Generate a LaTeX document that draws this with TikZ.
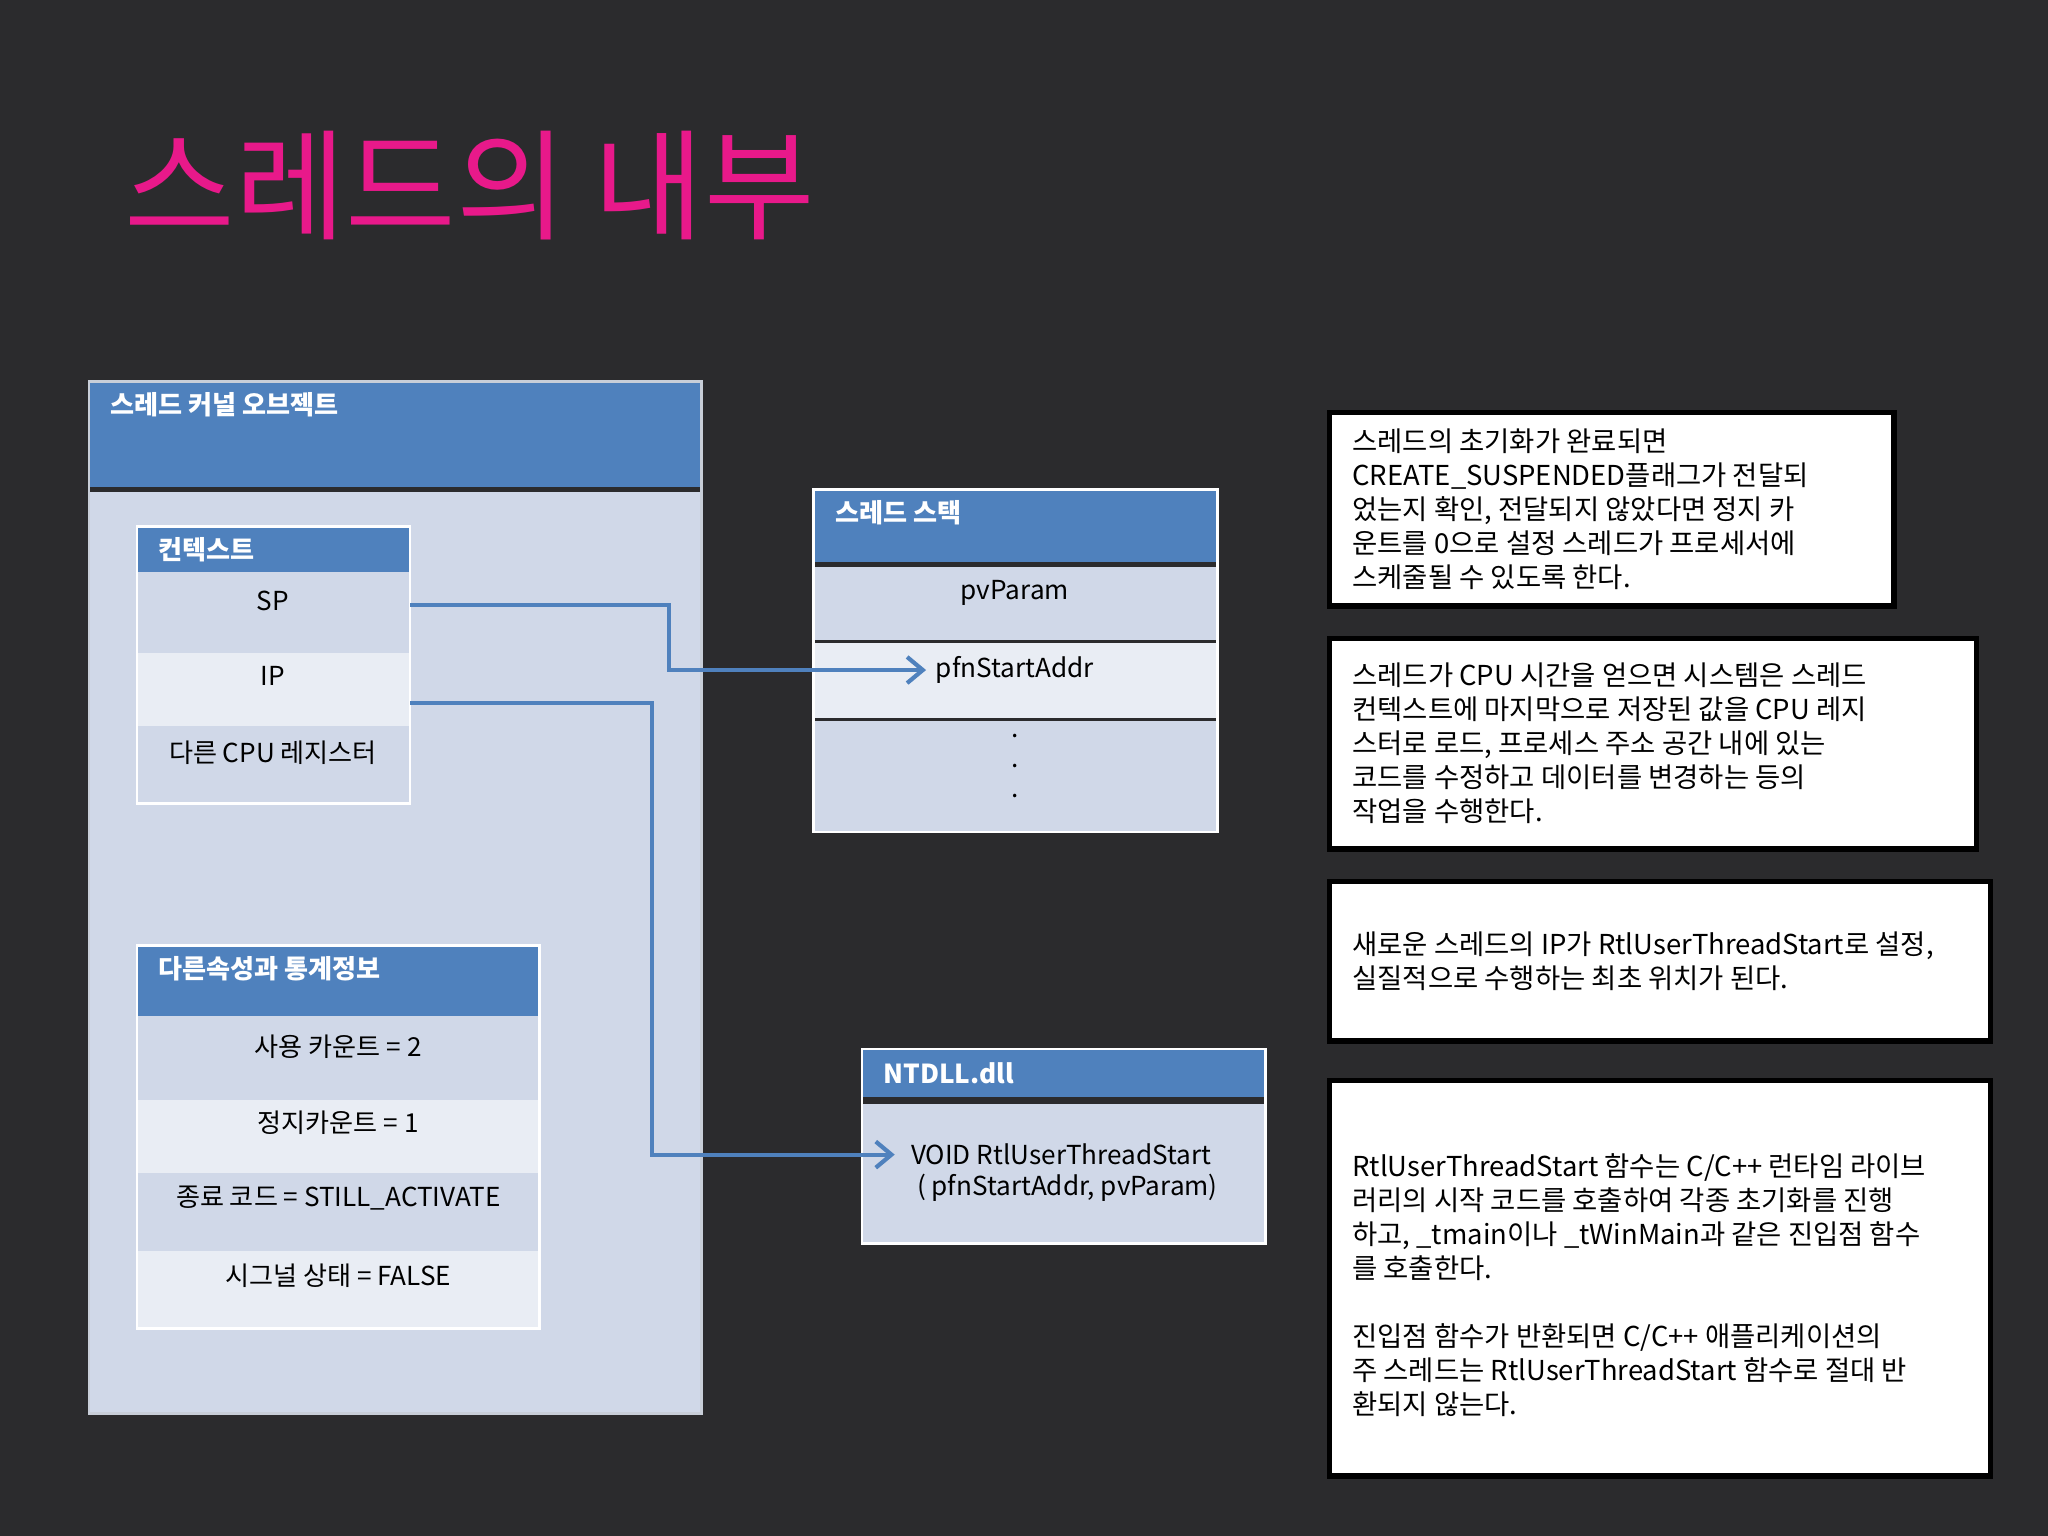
\documentclass[tikz,border=0pt]{standalone}
\usepackage{fontspec}
\setmainfont{Noto Sans CJK KR}
\usetikzlibrary{arrows.meta}
\definecolor{bg}{HTML}{2B2B2D}
\definecolor{hdr}{HTML}{4F81BD}
\definecolor{rowA}{HTML}{D0D8E8}
\definecolor{rowB}{HTML}{E9EDF4}
\definecolor{pink}{HTML}{E8198A}
\definecolor{edge}{HTML}{C8CED8}
\tikzset{
  hbox/.style={fill=hdr,draw=none},
  htext/.style={anchor=north west,text=white,font=\fontsize{10}{12}\selectfont\bfseries,inner sep=0pt},
  ctext/.style={anchor=north,text=black,font=\fontsize{10}{12}\selectfont,inner sep=0pt,align=center},
  note/.style={draw=black,line width=2pt,fill=white},
  ntext/.style={anchor=west,text=black,font=\fontsize{10.5}{13}\selectfont,inner sep=0pt,align=left},
  conn/.style={draw=hdr,line width=1.6pt,-{Straight Barb[length=6pt,width=10pt]}}
}
\begin{document}
\begin{tikzpicture}[x=0.5pt,y=-0.5pt]
\fill[bg] (0,0) rectangle (1568,1176);
\useasboundingbox (0,0) rectangle (1568,1176);
\node[anchor=west,text=pink,font=\fontsize{46}{50}\selectfont,inner sep=0pt] (title) at (95,142) {스레드의 내부};
% kernel object
\fill[rowA] (68,377) rectangle (537,1082);
\fill[hdr] (68,292) rectangle (537,373);
\draw[edge,line width=1pt] (68,292) rectangle (537,1082);
\node[htext] (kh) at (84,300) {스레드 커널 오브젝트};
% context
\fill[hdr] (105,403) rectangle (314,438);
\fill[rowA] (105,443) rectangle (314,498);
\fill[rowB] (105,500) rectangle (314,556);
\fill[rowA] (105,558) rectangle (314,615);
\draw[white,line width=1pt] (105,403) rectangle (314,615);
\node[htext] (ch) at (121,411) {컨텍스트};
\node[ctext] (sp) at (209,452) {SP};
\node[ctext] (ip) at (209,510) {IP};
\node[ctext] (oc) at (209,567) {다른 CPU 레지스터};
\coordinate (spR) at (314,463);
\coordinate (ipR) at (314,538);
% stats
\fill[hdr] (105,724) rectangle (413,778);
\fill[rowA] (105,784) rectangle (413,840);
\fill[rowB] (105,842) rectangle (413,898);
\fill[rowA] (105,900) rectangle (413,956);
\fill[rowB] (105,958) rectangle (413,1017);
\draw[white,line width=1pt] (105,724) rectangle (413,1017);
\node[htext] (sh) at (121,732) {다른속성과 통계정보};
\node[ctext] (s1) at (259,792) {사용 카운트 = 2};
\node[ctext] (s2) at (259,850) {정지카운트 = 1};
\node[ctext] (s3) at (259,908) {종료 코드 = STILL\_ACTIVATE};
\node[ctext] (s4) at (259,967) {시그널 상태 = FALSE};
% stack
\fill[hdr] (623,375) rectangle (932,430);
\fill[rowA] (623,434) rectangle (932,490);
\fill[rowB] (623,492) rectangle (932,550);
\fill[rowA] (623,552) rectangle (932,637);
\draw[white,line width=1pt] (623,375) rectangle (932,637);
\node[htext] (th) at (639,383) {스레드 스택};
\node[ctext] (pv) at (777,444) {pvParam};
\node[ctext] (pfn) at (777,502) {pfnStartAddr};
\node[ctext,align=center,font=\fontsize{10}{11.5}\selectfont] (dots) at (777,562) {.\\.\\.};
\coordinate (pfnL) at (709,513);
% ntdll
\fill[hdr] (660,803) rectangle (969,840);
\fill[rowA] (660,845) rectangle (969,952);
\draw[white,line width=1pt] (660,803) rectangle (969,952);
\node[htext] (nh) at (676,813) {NTDLL.dll};
\node[ctext,align=left,font=\fontsize{10}{12}\selectfont] (rt) at (815,875) {VOID RtlUserThreadStart\\\ ( pfnStartAddr, pvParam)};
\coordinate (rtL) at (685,884);
% connectors
\draw[conn] (spR) -- (512,463) -- (512,513) -- (pfnL);
\draw[conn] (ipR) -- (499,538) -- (499,884) -- (rtL);
% notes
\draw[note] (1018,316) rectangle (1450,464);
\node[ntext] (n1) at (1035,390) {스레드의 초기화가 완료되면\\CREATE\_SUSPENDED플래그가 전달되\\었는지 확인, 전달되지 않았다면 정지 카\\운트를 0으로 설정 스레드가 프로세서에\\스케줄될 수 있도록 한다.};
\draw[note] (1018,489) rectangle (1513,650);
\node[ntext] (n2) at (1035,569) {스레드가 CPU 시간을 얻으면 시스템은 스레드\\컨텍스트에 마지막으로 저장된 값을 CPU 레지\\스터로 로드, 프로세스 주소 공간 내에 있는\\코드를 수정하고 데이터를 변경하는 등의\\작업을 수행한다.};
\draw[note] (1018,675) rectangle (1524,797);
\node[ntext] (n3) at (1035,736) {새로운 스레드의 IP가 RtlUserThreadStart로 설정,\\실질적으로 수행하는 최초 위치가 된다.};
\draw[note] (1018,827) rectangle (1524,1130);
\node[ntext] (n4) at (1035,984) {RtlUserThreadStart 함수는 C/C++ 런타임 라이브\\러리의 시작 코드를 호출하여 각종 초기화를 진행\\하고, \_tmain이나 \_tWinMain과 같은 진입점 함수\\를 호출한다.\\[13pt]진입점 함수가 반환되면 C/C++ 애플리케이션의\\주 스레드는 RtlUserThreadStart 함수로 절대 반\\환되지 않는다.};
\end{tikzpicture}
\end{document}
